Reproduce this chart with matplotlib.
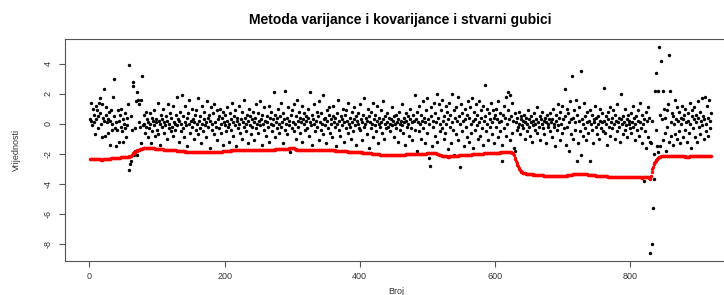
import numpy as np
import matplotlib
matplotlib.use("Agg")
import matplotlib.pyplot as plt

plt.rcParams['font.family'] = ['Liberation Sans', 'DejaVu Sans']

title = "Metoda varijance i kovarijance i stvarni gubici"
xlabel = "Broj"
ylabel = "Vrijednosti"
xticks = [0, 200, 400, 600, 800]
yticks = [4, 2, 0, -2, -4, -6, -8]

# actual losses (black points), index 1..920
actual = [
 0.3, 1.4, 0.2, -0.1, 1.0, 0.6, 0.1, -0.7, 1.2, 0.3, 0.9, -0.3, 0.5, 1.4, 0.7, 1.7, 0.0, -0.9, 1.3, 0.4, 0.2, 2.3, -0.8, 0.6, 1.1, 0.1, -0.6, 0.3, 0.8, -1.4, 0.2, 0.9, 0.0, -0.4, 1.8, 3.0, 0.5, -0.3, -1.5, 0.1,
 -0.4, 0.9, 0.2, -1.2, 0.6, -0.2, 1.0, -0.5, 0.3, -1.2, 0.0, -0.3, 0.7, -0.9, 0.4, -0.1, 1.3, -3.1, 3.9, -2.7, 0.5, -2.5, -0.4, 2.8, 2.5, -2.1, -0.3, -1.8, 1.5, 2.1, -2.1, 1.6, 0.1, 1.3, -0.2, 1.6, -1.3, 3.2, -0.1, 0.6,
 0.0, -0.6, 0.8, -0.2, 0.3, -0.9, 0.1, -0.3, 0.7, 0.0, -1.3, 0.4, -0.5, 0.2, 0.9, -0.1, -0.8, 0.3, 0.1, -0.4, 1.4, -0.7, 0.2, 0.0, -1.4, 0.6, -0.2, 0.3, 1.0, -0.6, 0.1, -0.1, 0.5, -1.0, 0.2, 1.3, -0.3, 0.0, 0.7, -0.5,
 0.4, -0.2, 1.2, -0.8, 0.1, 0.0, -0.4, 0.6, 1.8, -0.1, 0.3, -1.2, 0.2, 0.8, -0.5, 0.0, 1.9, -0.3, 0.5, -0.9, 0.1, 1.2, -0.1, 0.4, -1.5, 0.7, 0.0, 1.6, -0.6, 0.2, -0.2, 1.0, 0.3, -1.0, 0.1, 0.6, -0.4, 0.9, 0.0, -0.7,
 1.7, 0.2, -0.3, 0.5, -1.3, 0.0, 1.2, -0.5, 0.3, 0.8, -0.1, 0.1, -0.9, 1.5, 0.4, -0.2, 0.6, -1.6, 0.2, 1.1, -0.4, 0.0, 0.7, -0.7, 1.3, 0.1, -0.2, 0.9, -1.1, 0.3, 0.5, -0.3, 1.0, 0.0, -0.6, 0.4, -1.4, 0.8, 0.1, -0.1,
 0.6, -0.5, 0.2, 1.1, -0.2, 0.0, -1.2, 0.7, 0.3, -0.4, 1.4, 0.1, -0.8, 0.5, -0.1, 0.9, -1.5, 0.2, 0.4, -0.3, 1.2, 0.0, -0.6, 0.3, 0.8, -1.0, 0.1, -0.2, 1.6, 0.4, -0.5, 0.0, 0.6, -1.3, 0.2, 1.0, -0.1, 0.5, -0.7, 0.3,
 -0.2, 0.8, 0.1, -1.1, 0.4, 1.3, -0.3, 0.0, 0.7, -0.6, 0.2, 1.5, -0.1, 0.3, -1.4, 0.6, 0.0, -0.4, 1.1, 0.2, -0.8, 0.5, 0.1, -0.2, 1.2, -1.2, 0.4, 0.0, 0.8, -0.5, 0.3, -0.1, 2.1, 0.6, -0.9, 0.1, 0.4, -0.3, 1.0, 0.0,
 -0.6, 0.5, 1.4, -0.2, 0.1, -1.3, 0.7, 0.3, -0.4, 2.2, 0.0, -0.7, 0.4, 1.1, -0.1, 0.2, -1.9, 0.6, 0.9, -0.3, 0.1, 1.3, -0.5, 0.0, 0.5, -1.0, 1.6, 0.2, -0.2, 0.8, 0.4, -0.6, 0.1, 1.2, -1.2, 0.3, 0.0, 0.7, -0.4, 0.5,
 0.2, -0.3, 1.0, 0.4, -0.8, 0.1, 2.1, -0.1, 0.6, -1.4, 0.3, 0.0, 1.3, -0.5, 0.2, 0.8, -0.2, 0.5, -1.1, 1.5, 0.1, -0.4, 0.7, 0.0, -0.7, 1.9, 0.3, -0.1, 0.4, -1.3, 0.9, 0.2, -0.3, 0.6, 1.1, -0.6, 0.0, 0.3, -0.9, 0.5,
 1.2, 0.1, -0.2, 0.4, -1.5, 0.7, 0.0, 1.6, -0.4, 0.2, -0.8, 0.5, 0.3, -0.1, 1.0, -1.2, 0.1, 0.6, -0.3, 0.9, 0.2, -0.6, 1.4, 0.0, -0.2, 0.4, -1.0, 0.8, 0.1, -0.5, 0.3, 1.1, -0.1, 0.5, -1.4, 0.2, 0.7, 0.0, -0.3, 1.3,
 -0.4, 0.3, 0.1, -1.1, 0.6, 1.7, -0.2, 0.0, 0.4, -0.7, 0.2, 1.0, -1.6, 0.5, 0.1, -0.3, 0.8, 0.0, -0.9, 1.4, 0.3, -0.1, 0.6, -0.5, 0.2, 1.2, -1.3, 0.0, 0.4, -0.2, 0.9, 0.1, -0.6, 1.5, 0.3, -1.0, 0.5, 0.0, -0.3, 0.7,
 0.1, -0.2, 0.4, 0.0, -0.5, 0.3, 1.1, -0.1, 0.2, -0.9, 0.5, 0.0, -0.3, 0.6, 0.1, -1.2, 0.3, 0.8, -0.4, 0.0, 0.2, -0.1, 1.3, -0.6, 0.4, 0.1, -1.4, 0.2, 0.7, -0.2, 0.0, 0.5, -0.8, 0.3, 1.0, -0.3, 0.1, -1.1, 0.6, 0.2,
 1.9, -0.4, 0.3, 0.8, -1.8, 0.1, 1.2, -0.5, 0.0, 0.6, -1.0, 0.2, 1.5, -0.3, 0.4, -1.3, 0.1, 0.9, -0.6, 1.7, 0.3, -2.3, 0.0, -2.8, 0.5, 1.1, -1.5, 0.2, -0.2, 1.4, 0.7, -0.8, 0.1, 2.0, -1.2, 0.4, 1.3, 0.0, -0.5, 0.9,
 -0.3, 1.6, 0.2, -1.0, 0.5, -0.6, 1.2, 0.0, 0.8, -1.7, 0.3, 1.4, -0.2, 0.6, -1.3, 2.0, 0.1, -0.4, 0.9, -2.1, 0.4, 1.1, -0.7, 0.2, 1.8, -1.1, 0.5, -2.9, 0.0, 1.3, -0.5, 0.7, 0.2, -1.5, 1.0, 0.3, -0.2, 0.6, -0.9, 1.5,
 0.4, -1.2, 1.1, 0.0, -0.6, 1.7, 0.2, -1.6, 0.8, 0.3, -0.4, 1.3, -0.1, 0.6, -1.0, 1.5, 0.1, -0.8, 0.9, 0.4, -0.3, 1.2, -1.4, 0.2, 2.6, 0.5, -0.5, 1.0, 0.0, -1.1, 0.7, 0.3, -0.2, 1.4, -0.7, 0.1, 0.9, -1.3, 0.4, 0.6,
 -0.2, 1.0, 0.3, -0.9, 1.5, 0.1, -0.5, 0.7, 0.2, -1.4, -2.5, 0.6, 1.2, -0.3, 0.4, 1.8, -0.8, 0.0, 0.9, 2.1, 0.3, -1.1, 1.9, 0.5, -0.6, 1.4, 0.2, -1.6, -1.8, 0.7, 0.1, -0.4, 0.4, -0.2, 0.8, 0.0, -0.7, 0.3, 0.5, -0.1,
 0.2, -0.3, 0.6, -1.0, 0.1, 0.4, -0.5, 0.0, 0.9, -0.2, 0.3, -0.8, 0.1, 0.5, -1.2, 0.2, -0.1, 0.7, 0.0, -0.4, 0.3, 1.1, -0.6, 0.1, -0.2, 0.5, -1.1, 0.3, 0.0, 0.8, -0.3, 0.2, -0.7, 0.4, 0.1, -1.3, 0.6, 0.0, -0.2, 0.3,
 -0.5, 0.7, 0.1, -0.9, 0.3, 1.0, -0.2, 0.0, -1.5, 0.6, 0.2, -0.4, 1.3, -0.1, 0.4, -1.1, 0.8, 0.0, -0.6, 1.2, 0.3, -0.3, 2.3, 0.5, -1.4, 1.0, -0.2, 0.7, -1.8, 0.1, 1.5, 0.3, -0.7, 3.2, 0.4, -1.0, 0.9, 0.1, -0.4, 1.6,
 -2.5, 0.6, -1.3, 0.2, 1.1, -0.5, 3.5, -2.1, 0.3, -0.8, 0.0, 1.4, -0.3, 0.5, -1.1, 0.8, 0.1, -0.6, 0.2, -2.5, 0.9, 0.0, -0.4, 0.6, -1.3, 0.3, 0.1, 1.2, -0.2, 0.4, -0.7, 0.0, 0.5, -1.0, 0.2, 1.0, -0.3, 0.1, 0.7, -0.5,
 2.4, 0.2, -0.6, 0.5, 0.0, -1.4, 0.8, 0.3, -0.2, 1.1, -0.8, 0.1, 0.4, -0.3, 0.9, 0.0, -1.0, 0.6, 0.2, -0.5, 1.3, 0.1, -0.2, 0.4, -1.2, 2.0, 0.3, 0.0, -0.7, 0.5, 0.1, -0.4, 1.0, -0.1, 0.3, -0.9, 0.6, 0.0, 0.2, -0.3,
 0.7, -0.6, 0.1, 1.2, -0.2, 0.4, -1.1, 0.0, 0.5, -0.4, 0.9, 0.2, -0.8, 1.4, 0.1, -0.3, 0.6, -1.3, 0.0, -3.8, 0.3, -0.5, 0.8, -1.6, 0.2, 1.1, -0.9, 0.4, -1.2, -8.6, -1.3, -8.0, 0.2, -5.6, -2.0, -3.7, 2.2, 3.4, -0.4, -1.5,
 2.2, -1.9, 5.1, 0.6, -1.5, 4.2, 0.3, 2.2, -1.1, 1.0, -0.6, 0.4, -1.8, 0.9, -0.2, 1.3, -1.2, 4.6, 2.2, 0.1, -0.8, 0.7, -1.4, 0.5, 0.0, 1.6, -0.7, 0.3, -1.0, 1.1, 0.2, -0.5, 0.8, -1.3, 0.4, 0.0, 1.2, -0.9, 0.3, 0.6,
 -0.4, 1.0, 0.1, -1.2, 0.7, 0.2, -0.6, 1.4, 0.0, -1.6, 0.5, 0.9, -0.3, 1.1, 0.3, -0.9, 0.6, 0.1, -1.2, 1.5, 0.4, -0.2, 0.8, -0.7, 0.2, 1.7, -0.1, 0.5, -1.0, 0.3, 1.8, 0.0, -0.5, 1.2, 0.4, -0.8, 1.6, 0.2, -0.3, 0.7,
]

# variance-covariance VaR (red points), index 1..920
var_cov = [
 -2.33,-2.33,-2.34,-2.34,-2.34,-2.35,-2.35,-2.35,-2.36,-2.36,-2.36,-2.37,-2.37,-2.37,-2.38,-2.38,-2.39,-2.40,-2.39,-2.38,
 -2.37,-2.37,-2.36,-2.35,-2.35,-2.34,-2.34,-2.33,-2.33,-2.32,-2.32,-2.31,-2.31,-2.30,-2.30,-2.29,-2.29,-2.28,-2.28,-2.27,
 -2.27,-2.26,-2.26,-2.25,-2.25,-2.24,-2.24,-2.23,-2.23,-2.22,-2.22,-2.21,-2.21,-2.20,-2.20,-2.20,-2.19,-2.19,-2.18,-2.18,
 -2.17,-2.12,-2.06,-2.00,-1.95,-1.91,-1.88,-1.86,-1.83,-1.80,-1.78,-1.76,-1.74,-1.72,-1.70,-1.69,-1.67,-1.66,-1.64,-1.63,
 -1.62,-1.61,-1.61,-1.60,-1.60,-1.59,-1.59,-1.60,-1.60,-1.61,-1.62,-1.62,-1.63,-1.64,-1.64,-1.65,-1.66,-1.66,-1.67,-1.67,
 -1.68,-1.68,-1.69,-1.69,-1.70,-1.70,-1.71,-1.71,-1.71,-1.72,-1.72,-1.72,-1.73,-1.73,-1.73,-1.74,-1.74,-1.74,-1.75,-1.75,
 -1.76,-1.76,-1.76,-1.77,-1.77,-1.78,-1.78,-1.78,-1.79,-1.79,-1.80,-1.80,-1.80,-1.81,-1.81,-1.82,-1.82,-1.83,-1.83,-1.84,
 -1.84,-1.85,-1.85,-1.85,-1.86,-1.86,-1.87,-1.87,-1.87,-1.88,-1.88,-1.88,-1.89,-1.89,-1.89,-1.89,-1.90,-1.90,-1.90,-1.90,
 -1.90,-1.90,-1.90,-1.91,-1.91,-1.91,-1.90,-1.90,-1.91,-1.91,-1.90,-1.90,-1.90,-1.90,-1.90,-1.90,-1.89,-1.90,-1.90,-1.90,
 -1.90,-1.90,-1.90,-1.89,-1.89,-1.88,-1.88,-1.88,-1.87,-1.87,-1.87,-1.86,-1.86,-1.85,-1.85,-1.85,-1.84,-1.84,-1.83,-1.83,
 -1.82,-1.82,-1.81,-1.81,-1.80,-1.80,-1.79,-1.79,-1.79,-1.78,-1.78,-1.77,-1.77,-1.77,-1.76,-1.76,-1.76,-1.75,-1.75,-1.75,
 -1.75,-1.74,-1.74,-1.74,-1.74,-1.74,-1.74,-1.73,-1.73,-1.74,-1.74,-1.74,-1.74,-1.73,-1.73,-1.74,-1.74,-1.74,-1.74,-1.74,
 -1.74,-1.74,-1.75,-1.75,-1.74,-1.74,-1.74,-1.74,-1.73,-1.73,-1.74,-1.74,-1.74,-1.74,-1.74,-1.73,-1.73,-1.74,-1.74,-1.74,
 -1.74,-1.74,-1.73,-1.73,-1.73,-1.73,-1.73,-1.72,-1.72,-1.72,-1.72,-1.72,-1.72,-1.72,-1.71,-1.71,-1.71,-1.71,-1.71,-1.71,
 -1.71,-1.70,-1.70,-1.70,-1.70,-1.69,-1.69,-1.69,-1.69,-1.69,-1.68,-1.68,-1.67,-1.66,-1.66,-1.65,-1.65,-1.64,-1.64,-1.63,
 -1.63,-1.63,-1.65,-1.68,-1.71,-1.73,-1.75,-1.76,-1.76,-1.75,-1.75,-1.75,-1.74,-1.74,-1.74,-1.74,-1.74,-1.74,-1.74,-1.74,
 -1.74,-1.74,-1.74,-1.73,-1.73,-1.74,-1.74,-1.74,-1.74,-1.74,-1.73,-1.73,-1.74,-1.74,-1.74,-1.74,-1.74,-1.74,-1.74,-1.74,
 -1.74,-1.74,-1.74,-1.74,-1.74,-1.74,-1.75,-1.75,-1.75,-1.75,-1.75,-1.76,-1.76,-1.76,-1.76,-1.76,-1.77,-1.77,-1.77,-1.77,
 -1.78,-1.78,-1.78,-1.79,-1.79,-1.79,-1.80,-1.80,-1.80,-1.81,-1.81,-1.81,-1.82,-1.82,-1.82,-1.83,-1.83,-1.83,-1.84,-1.84,
 -1.84,-1.85,-1.85,-1.85,-1.85,-1.86,-1.86,-1.86,-1.86,-1.86,-1.87,-1.87,-1.87,-1.88,-1.88,-1.88,-1.89,-1.89,-1.89,-1.90,
 -1.90,-1.91,-1.91,-1.92,-1.92,-1.93,-1.93,-1.94,-1.94,-1.95,-1.95,-1.96,-1.96,-1.97,-1.97,-1.98,-1.98,-1.99,-1.99,-2.00,
 -2.00,-2.01,-2.01,-2.02,-2.02,-2.03,-2.03,-2.04,-2.04,-2.05,-2.05,-2.05,-2.06,-2.06,-2.06,-2.07,-2.07,-2.07,-2.08,-2.08,
 -2.08,-2.08,-2.08,-2.08,-2.08,-2.07,-2.07,-2.07,-2.08,-2.08,-2.07,-2.07,-2.07,-2.07,-2.06,-2.06,-2.06,-2.06,-2.06,-2.06,
 -2.05,-2.05,-2.05,-2.05,-2.05,-2.05,-2.05,-2.04,-2.04,-2.04,-2.04,-2.04,-2.04,-2.04,-2.03,-2.03,-2.03,-2.03,-2.03,-2.03,
 -2.03,-2.02,-2.02,-2.02,-2.02,-2.02,-2.02,-2.01,-2.01,-2.01,-2.01,-2.01,-2.01,-2.01,-2.00,-2.00,-1.99,-1.99,-1.98,-1.98,
 -1.97,-1.97,-1.96,-1.96,-1.95,-1.95,-1.95,-1.94,-1.94,-1.94,-1.94,-1.95,-1.97,-1.99,-2.01,-2.03,-2.05,-2.07,-2.09,-2.10,
 -2.12,-2.13,-2.14,-2.15,-2.16,-2.17,-2.17,-2.18,-2.18,-2.19,-2.19,-2.19,-2.18,-2.18,-2.17,-2.17,-2.16,-2.16,-2.15,-2.15,
 -2.14,-2.14,-2.13,-2.13,-2.12,-2.12,-2.11,-2.11,-2.10,-2.10,-2.10,-2.09,-2.09,-2.08,-2.08,-2.08,-2.07,-2.07,-2.07,-2.06,
 -2.06,-2.06,-2.05,-2.05,-2.05,-2.04,-2.04,-2.04,-2.03,-2.03,-2.03,-2.02,-2.02,-2.02,-2.01,-2.01,-2.01,-2.00,-2.00,-2.00,
 -1.99,-1.99,-1.99,-1.98,-1.98,-1.98,-1.97,-1.97,-1.97,-1.97,-1.96,-1.96,-1.96,-1.96,-1.95,-1.95,-1.95,-1.95,-1.94,-1.94,
 -1.94,-1.93,-1.93,-1.93,-1.92,-1.92,-1.92,-1.91,-1.91,-1.91,-1.90,-1.90,-1.90,-1.90,-1.89,-1.89,-1.89,-1.89,-1.88,-1.88,
 -1.88,-1.88,-1.89,-1.91,-1.93,-1.95,-1.96,-2.10,-2.25,-2.37,-2.47,-2.60,-2.72,-2.84,-2.96,-3.03,-3.09,-3.15,-3.19,-3.23,
 -3.25,-3.27,-3.29,-3.30,-3.31,-3.32,-3.33,-3.34,-3.35,-3.35,-3.36,-3.36,-3.37,-3.37,-3.38,-3.38,-3.39,-3.39,-3.40,-3.40,
 -3.41,-3.41,-3.42,-3.42,-3.42,-3.43,-3.43,-3.43,-3.44,-3.44,-3.44,-3.45,-3.45,-3.45,-3.46,-3.46,-3.46,-3.46,-3.47,-3.47,
 -3.47,-3.47,-3.47,-3.47,-3.47,-3.47,-3.47,-3.46,-3.46,-3.46,-3.46,-3.46,-3.46,-3.46,-3.46,-3.46,-3.46,-3.45,-3.45,-3.45,
 -3.45,-3.45,-3.45,-3.45,-3.45,-3.45,-3.44,-3.43,-3.42,-3.41,-3.41,-3.40,-3.39,-3.39,-3.38,-3.38,-3.37,-3.37,-3.36,-3.36,
 -3.35,-3.35,-3.34,-3.34,-3.33,-3.33,-3.32,-3.32,-3.33,-3.33,-3.34,-3.35,-3.35,-3.36,-3.37,-3.37,-3.38,-3.39,-3.39,-3.40,
 -3.41,-3.41,-3.42,-3.42,-3.43,-3.43,-3.44,-3.44,-3.45,-3.45,-3.45,-3.46,-3.46,-3.46,-3.47,-3.47,-3.47,-3.48,-3.48,-3.49,
 -3.49,-3.50,-3.50,-3.51,-3.51,-3.51,-3.52,-3.52,-3.52,-3.53,-3.53,-3.53,-3.54,-3.54,-3.54,-3.55,-3.55,-3.55,-3.56,-3.56,
 -3.56,-3.56,-3.56,-3.56,-3.56,-3.57,-3.57,-3.57,-3.57,-3.57,-3.57,-3.57,-3.57,-3.57,-3.57,-3.57,-3.57,-3.57,-3.57,-3.57,
 -3.57,-3.57,-3.58,-3.58,-3.58,-3.58,-3.58,-3.58,-3.58,-3.58,-3.58,-3.58,-3.58,-3.58,-3.58,-3.58,-3.59,-3.59,-3.58,-3.58,
 -3.58,-3.58,-3.58,-3.58,-3.58,-3.58,-3.58,-3.59,-3.62,-3.70,-3.45,-3.19,-3.00,-2.85,-2.70,-2.60,-2.52,-2.45,-2.40,-2.35,
 -2.30,-2.26,-2.23,-2.21,-2.19,-2.18,-2.17,-2.16,-2.15,-2.14,-2.14,-2.13,-2.13,-2.12,-2.12,-2.12,-2.12,-2.12,-2.13,-2.13,
 -2.13,-2.13,-2.14,-2.14,-2.14,-2.14,-2.15,-2.15,-2.15,-2.15,-2.16,-2.16,-2.16,-2.16,-2.17,-2.17,-2.17,-2.17,-2.18,-2.18,
 -2.18,-2.19,-2.19,-2.19,-2.19,-2.19,-2.19,-2.18,-2.18,-2.18,-2.18,-2.18,-2.18,-2.17,-2.17,-2.17,-2.17,-2.17,-2.16,-2.16,
 -2.16,-2.16,-2.16,-2.16,-2.15,-2.15,-2.15,-2.15,-2.15,-2.15,-2.15,-2.14,-2.14,-2.14,-2.14,-2.14,-2.14,-2.14,-2.14,-2.14,
]

n = len(actual)
idx = np.arange(1, n + 1)

fig = plt.figure(figsize=(7.24, 2.95), dpi=100)
ax = fig.add_axes([65.3 / 724, 34 / 295, (736 - 65.3) / 724, 222 / 295])

ax.scatter(idx, actual, s=6, color='black', linewidths=0, zorder=2)
ax.scatter(idx[:len(var_cov)], var_cov, s=6, color='#ff0000', linewidths=0, zorder=3)

# R-style 4% axis extension
allv = np.concatenate([np.array(actual), np.array(var_cov)])
ylo, yhi = allv.min(), allv.max()
yr = yhi - ylo
ax.set_ylim(ylo - 0.04 * yr, yhi + 0.04 * yr)
xr = n - 1
ax.set_xlim(1 - 0.04 * xr, n + 0.04 * xr)

grey = '#555555'
for s in ax.spines.values():
    s.set_color(grey)
    s.set_linewidth(0.8)

ax.set_xticks(xticks)
ax.set_yticks(yticks)
ax.set_xticklabels([str(v) for v in xticks])
ax.set_yticklabels([str(v) for v in yticks], rotation=90, va='center')
ax.tick_params(axis='both', length=4, width=0.8, color=grey, labelcolor='#333333', labelsize=6.5)
ax.tick_params(axis='x', pad=4)
ax.tick_params(axis='y', pad=5)

fig.text(400 / 724, 1 - 20 / 295, title, ha='center', va='center', fontsize=10, fontweight='bold', color='black')
fig.text(396 / 724, 1 - 291 / 295, xlabel, ha='center', va='center', fontsize=6.5, color='#333333')
fig.text(16 / 724, 1 - 150 / 295, ylabel, ha='center', va='center', fontsize=6.5, color='#333333', rotation=90)

fig.savefig('out.png', dpi=100)
